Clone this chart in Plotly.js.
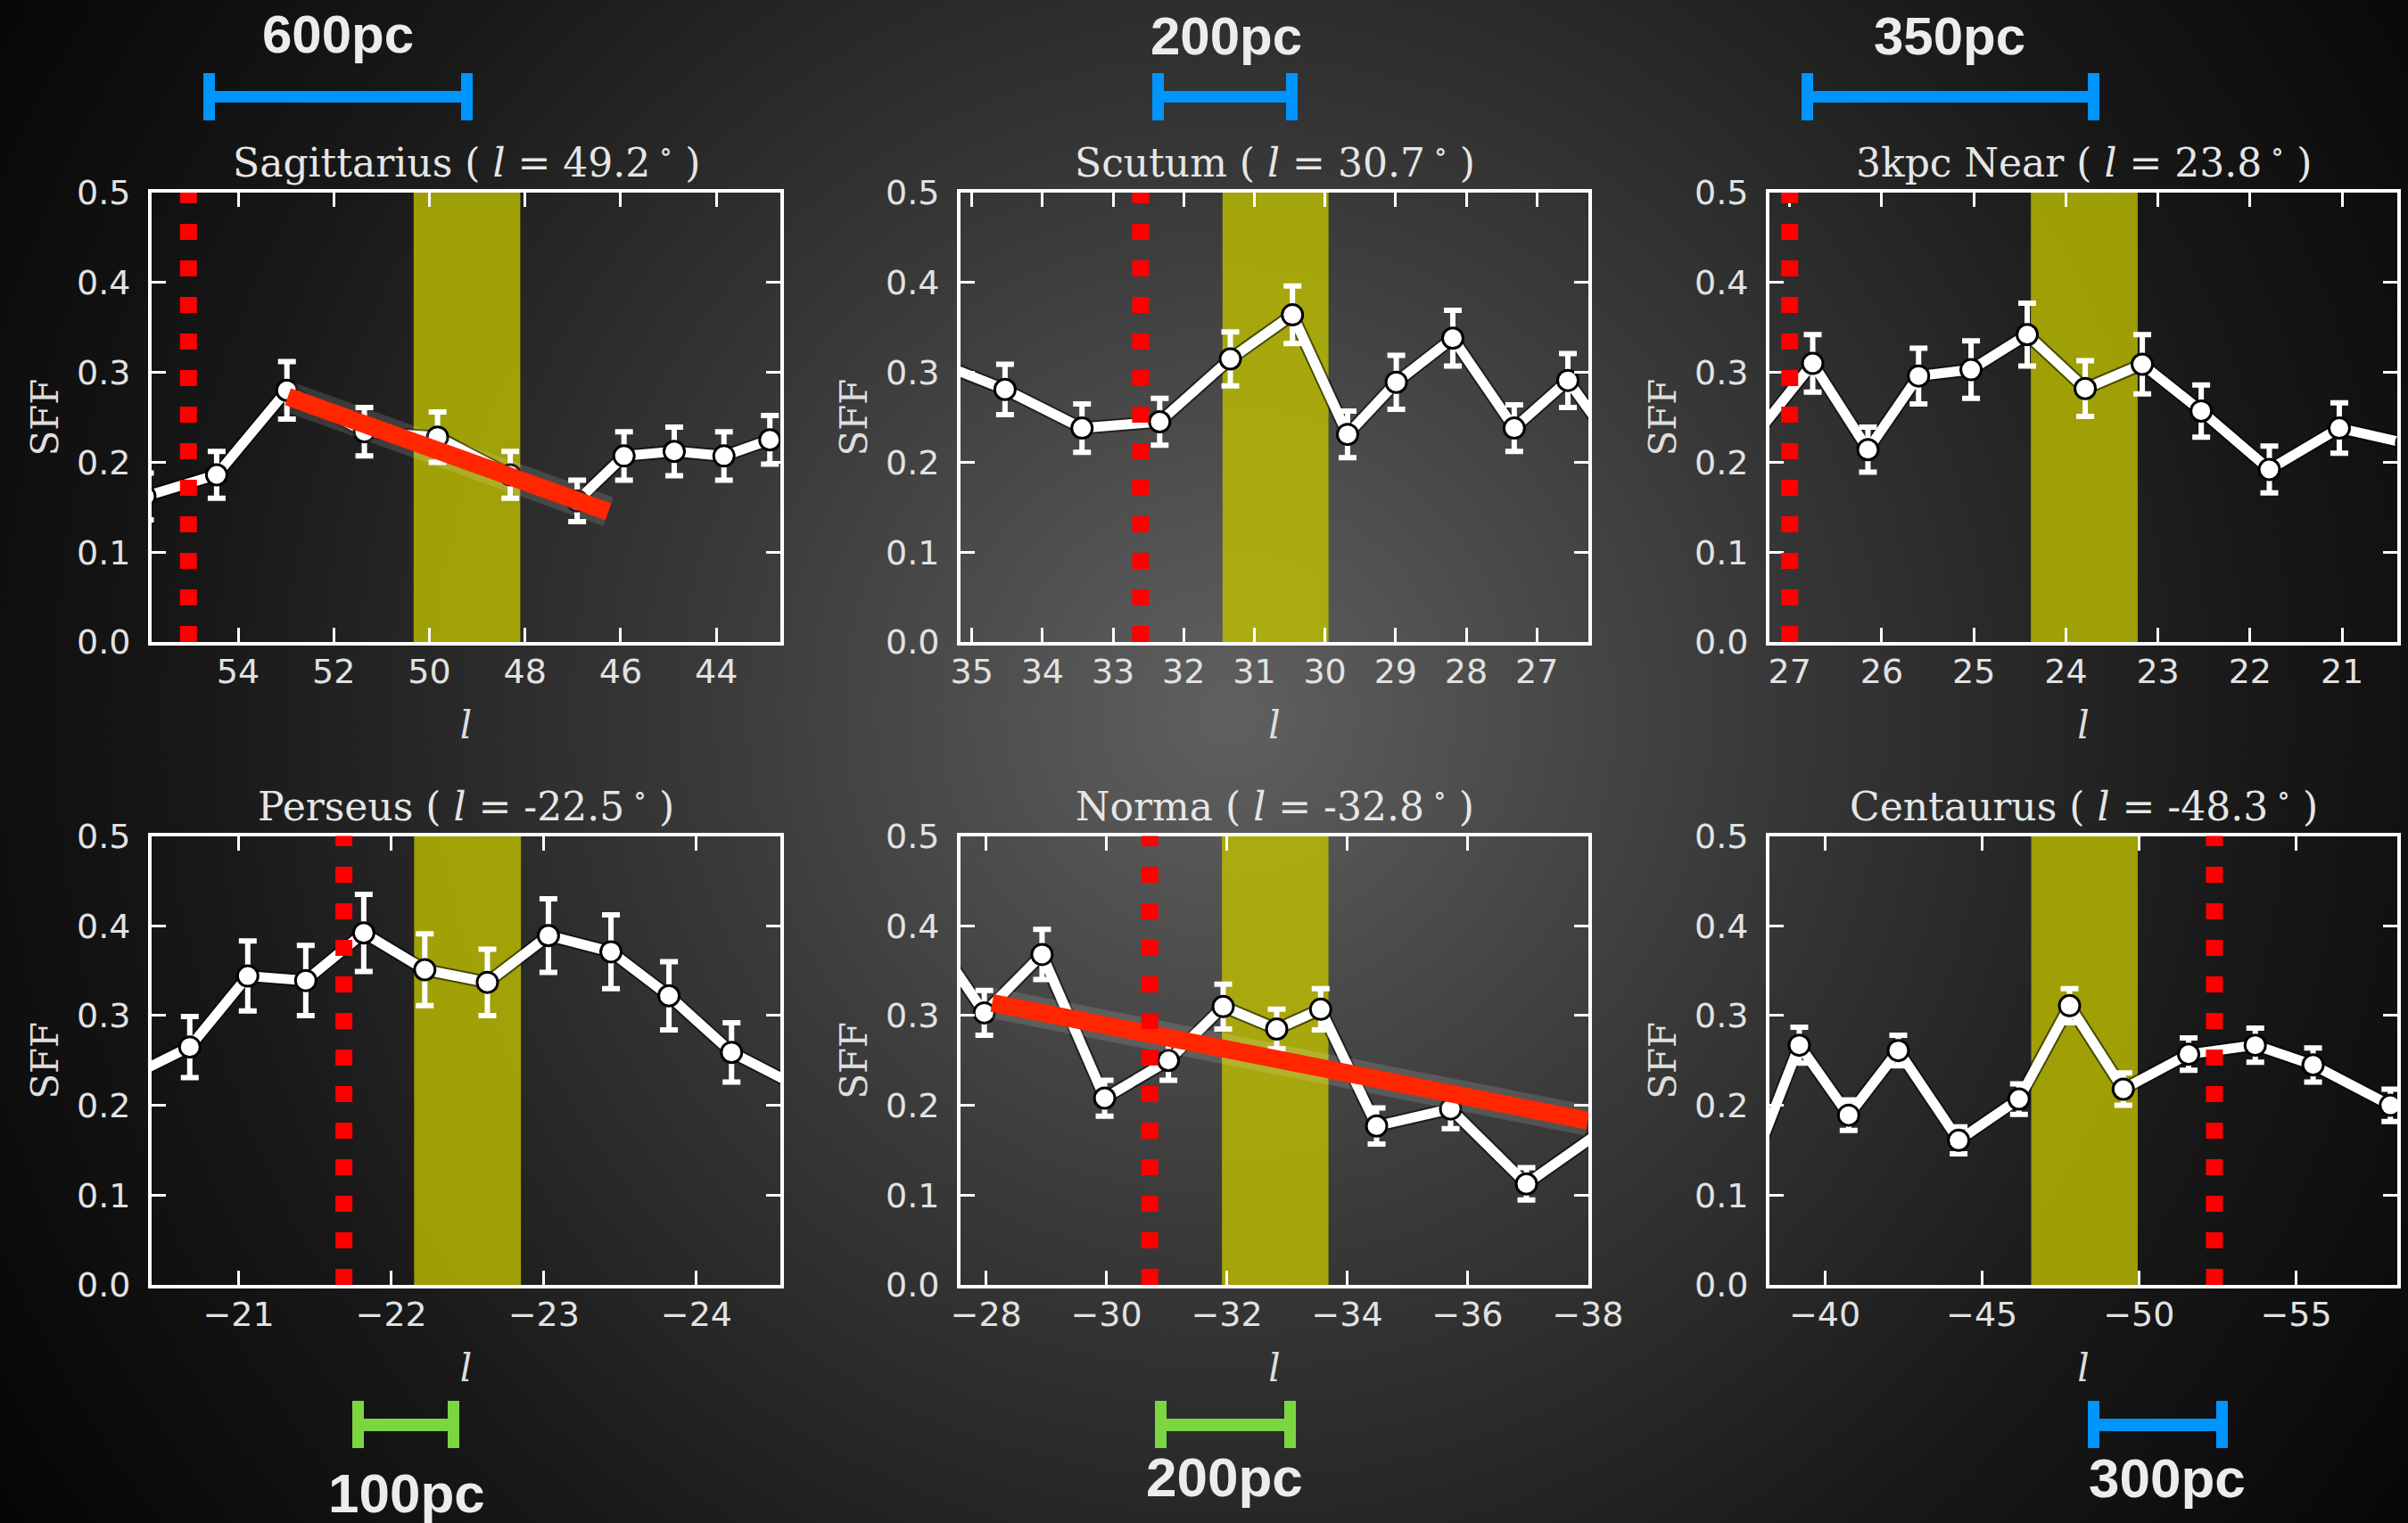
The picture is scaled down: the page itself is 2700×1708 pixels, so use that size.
<!DOCTYPE html>
<html><head><meta charset="utf-8">
<script src="https://cdn.plot.ly/plotly-3.0.1.min.js"></script>
<style>
html,body{margin:0;padding:0;width:2700px;height:1708px;overflow:hidden;
background:radial-gradient(circle 1650px at 1378px 800px,#606060 0%,#3a3a3a 35%,#181818 70%,#050505 100%);}
#chart{width:2700px;height:1708px;}
</style></head><body><div id="chart"></div>
<script>
// ---------- data ----------
const panelNames   = ['Sagittarius', 'Scutum', '3kpc Near', 'Perseus', 'Norma', 'Centaurus'];
const panelCentres = ['49.2', '30.7', '23.8', '-22.5', '-32.8', '-48.3'];

const sagL   = [55.95, 54.45, 52.98, 51.36, 49.83, 48.31, 46.91, 45.93, 44.88, 43.84, 42.88];
const sagSFF = [0.162, 0.186, 0.280, 0.234, 0.228, 0.186, 0.157, 0.207, 0.212, 0.207, 0.225];
const sagErr = [0.026, 0.026, 0.032, 0.027, 0.028, 0.026, 0.023, 0.027, 0.027, 0.027, 0.027];

const scuL   = [35.55, 34.53, 33.44, 32.34, 31.34, 30.46, 29.68, 28.99, 28.19, 27.32, 26.56, 25.7];
const scuSFF = [0.313, 0.281, 0.238, 0.245, 0.315, 0.364, 0.231, 0.289, 0.338, 0.238, 0.291, 0.197];
const scuErr = [0.030, 0.028, 0.027, 0.026, 0.030, 0.032, 0.026, 0.030, 0.031, 0.026, 0.030, 0.026];

const kpcL   = [27.35, 26.75, 26.15, 25.6, 25.03, 24.42, 23.79, 23.17, 22.53, 21.79, 21.03, 20.3];
const kpcSFF = [0.233, 0.310, 0.214, 0.296, 0.303, 0.342, 0.282, 0.309, 0.257, 0.192, 0.238, 0.221];
const kpcErr = [0.030, 0.032, 0.025, 0.031, 0.032, 0.035, 0.031, 0.033, 0.029, 0.026, 0.028, 0.028];

const perL   = [-20.3, -20.68, -21.06, -21.44, -21.82, -22.22, -22.63, -23.03, -23.44, -23.82, -24.23, -24.63];
const perSFF = [0.233, 0.265, 0.344, 0.339, 0.392, 0.351, 0.337, 0.389, 0.371, 0.322, 0.259, 0.224];
const perErr = [0.033, 0.034, 0.039, 0.039, 0.043, 0.040, 0.037, 0.041, 0.041, 0.038, 0.033, 0.033];

const norL   = [-27.0, -27.97, -28.93, -29.97, -31.03, -31.94, -32.83, -33.56, -34.49, -35.72, -36.98, -38.2];
const norSFF = [0.399, 0.303, 0.368, 0.208, 0.250, 0.310, 0.285, 0.307, 0.177, 0.196, 0.1125, 0.170];
const norErr = [0.025, 0.025, 0.028, 0.020, 0.022, 0.025, 0.022, 0.023, 0.020, 0.022, 0.018, 0.020];

const cenL   = [-37.6, -39.19, -40.76, -42.34, -44.26, -46.18, -47.79, -49.5, -51.58, -53.7, -55.54, -58.0];
const cenSFF = [0.124, 0.267, 0.189, 0.261, 0.161, 0.207, 0.311, 0.218, 0.257, 0.267, 0.245, 0.200];
const cenErr = [0.018, 0.020, 0.017, 0.017, 0.015, 0.017, 0.019, 0.018, 0.018, 0.019, 0.019, 0.018];

// arm tangent band (low, high) and boundary (dotted) longitude per panel
const bandLo   = [48.1, 29.95, 23.22, -22.85, -33.69, -49.96];
const bandHi   = [50.33, 31.45, 24.38, -22.15, -31.92, -46.57];
const boundaryL = [55.04, 32.61, 27.0, -21.69, -30.72, -52.4];

// linear trend lines (Sagittarius, Norma)
const sagFitL = [52.96, 46.26];
const sagFitSFF = [0.273, 0.145];
const norFitL = [-28.1, -38.0];
const norFitSFF = [0.314, 0.183];

const sffTicks = [0, 0.1, 0.2, 0.3, 0.4, 0.5];
const lTickStep = [2, 1, 1, 1, 2, 5];
const scaleLabels = ['600pc', '200pc', '350pc', '100pc', '200pc', '300pc'];

// ---------- layout helpers ----------
const W = 2700, H = 1708;
const X = p => p / W, Y = p => 1 - p / H;
const colPx = [[170, 875], [1077, 1781], [1984, 2688]];
const rowPx = [[216, 720], [937.5, 1441]];
const xRanges = [[55.81, 42.66], [35.16, 26.27], [27.22, 20.40], [-20.43, -24.55], [-27.575, -38.01], [-38.24, -58.22]];

const series = [[sagL, sagSFF, sagErr], [scuL, scuSFF, scuErr], [kpcL, kpcSFF, kpcErr],
                [perL, perSFF, perErr], [norL, norSFF, norErr], [cenL, cenSFF, cenErr]];

const tickFont = {family: 'DejaVu Sans', size: 38, color: '#e2e2e2'};
const serif = {family: 'DejaVu Serif', size: 42, color: '#dedede'};

function baseAxis() {
  return {showline: true, linecolor: '#ffffff', linewidth: 4, mirror: 'ticks',
          ticks: 'inside', ticklen: 16, tickwidth: 3, tickcolor: '#ffffff',
          showgrid: false, zeroline: false, tickfont: tickFont,
          fixedrange: true};
}

const traces = [];
const layout = {
  width: W, height: H, margin: {l: 0, r: 0, t: 0, b: 0},
  paper_bgcolor: 'rgba(0,0,0,0)', plot_bgcolor: 'rgba(0,0,0,0)',
  showlegend: false, shapes: [], annotations: []
};

for (let i = 0; i < 6; i++) {
  const n = i === 0 ? '' : String(i + 1);
  const xa = 'x' + n, ya = 'y' + n;
  const col = colPx[i % 3], row = rowPx[Math.floor(i / 3)];
  const xAxis = Object.assign(baseAxis(), {
    domain: [X(col[0]), X(col[1])], anchor: ya, range: xRanges[i],
    tick0: 0, dtick: lTickStep[i], ticklabelstandoff: -4,
    title: {text: '<i>l</i>', font: serif, standoff: 26}
  });
  const yAxis = Object.assign(baseAxis(), {
    domain: [Y(row[1]), Y(row[0])], anchor: xa, range: [0, 0.5],
    tickvals: sffTicks, tickformat: '.1f', ticklabelstandoff: 12,
    title: {text: 'SFF', font: serif, standoff: 8}
  });
  layout['xaxis' + n] = xAxis;
  layout['yaxis' + n] = yAxis;

  const [lx, sy, se] = series[i];
  // dark outline under the white line
  traces.push({x: lx, y: sy, xaxis: xa, yaxis: ya, mode: 'lines', hoverinfo: 'skip',
               line: {color: 'rgba(0,0,0,0.55)', width: 15}});
  traces.push({x: lx, y: sy, xaxis: xa, yaxis: ya, mode: 'lines+markers',
               line: {color: '#ffffff', width: 11},
               marker: {size: 23, color: '#ffffff', line: {color: '#000000', width: 3}},
               error_y: {type: 'data', array: se, visible: true, color: '#ffffff', thickness: 6, width: 10}});

  // arm band
  layout.shapes.push({type: 'rect', xref: xa, yref: ya + ' domain', x0: bandLo[i], x1: bandHi[i], y0: 0, y1: 1,
                      fillcolor: 'rgba(191,191,0,0.8)', line: {width: 0}, layer: 'below'});
  // boundary dotted line
  layout.shapes.push({type: 'line', xref: xa, yref: ya + ' domain', x0: boundaryL[i], x1: boundaryL[i], y0: 0, y1: 1,
                      line: {color: '#ff0000', width: 19, dash: '18px,23px'}, layer: 'above'});
  // panel title
  layout.annotations.push({xref: xa + ' domain', yref: ya + ' domain', x: 0.5, y: 1, yanchor: 'bottom', yshift: 6,
                           showarrow: false, text: panelNames[i] + ' ( <i>l</i> = ' + panelCentres[i] + '<sup> ∘</sup> )',
                           font: {family: 'DejaVu Serif', size: 44, color: '#e6e6e6'}});
}

// trend lines
[[sagFitL, sagFitSFF, 'x', 'y'], [norFitL, norFitSFF, 'x5', 'y5']].forEach(([fx, fy, xa, ya]) => {
  traces.push({x: fx, y: fy, xaxis: xa, yaxis: ya, mode: 'lines', hoverinfo: 'skip',
               line: {color: 'rgba(255,255,255,0.13)', width: 34}});
  traces.push({x: fx, y: fy, xaxis: xa, yaxis: ya, mode: 'lines', hoverinfo: 'skip',
               line: {color: '#ff2600', width: 20}});
});

// scale bars (decoration, pixel positions)
const BLUE = '#0094ff', GREEN = '#7cd641';
const bars = [
  {x0: 228, x1: 530, c: BLUE, top: 82, bot: 135, b0: 102, b1: 115, tx: 379, ty: 38, fs: 60},
  {x0: 1292, x1: 1455, c: BLUE, top: 82, bot: 135, b0: 102, b1: 115, tx: 1375, ty: 40, fs: 60},
  {x0: 2020, x1: 2354, c: BLUE, top: 82, bot: 135, b0: 102, b1: 115, tx: 2186, ty: 40, fs: 60},
  {x0: 395, x1: 515, c: GREEN, top: 1571, bot: 1624, b0: 1591, b1: 1605, tx: 456, ty: 1674, fs: 62},
  {x0: 1295, x1: 1453, c: GREEN, top: 1571, bot: 1624, b0: 1591, b1: 1605, tx: 1373, ty: 1656, fs: 62},
  {x0: 2341, x1: 2498, c: BLUE, top: 1571, bot: 1624, b0: 1591, b1: 1605, tx: 2430, ty: 1657, fs: 62}
];
bars.forEach((b, k) => {
  const cap = 13;
  [[b.x0, b.x0 + cap, b.top, b.bot], [b.x1 - cap, b.x1, b.top, b.bot], [b.x0, b.x1, b.b0, b.b1]].forEach(r => {
    layout.shapes.push({type: 'rect', xref: 'paper', yref: 'paper', x0: X(r[0]), x1: X(r[1]), y0: Y(r[3]), y1: Y(r[2]),
                        fillcolor: b.c, line: {width: 0}, layer: 'above'});
  });
  layout.annotations.push({xref: 'paper', yref: 'paper', x: X(b.tx), y: Y(b.ty), xanchor: 'center', yanchor: 'middle',
                           showarrow: false, text: '<b>' + scaleLabels[k] + '</b>',
                           font: {family: 'Liberation Sans', size: b.fs, color: '#ececec'}});
});

Plotly.newPlot('chart', traces, layout, {displayModeBar: false, staticPlot: true});
</script></body></html>
